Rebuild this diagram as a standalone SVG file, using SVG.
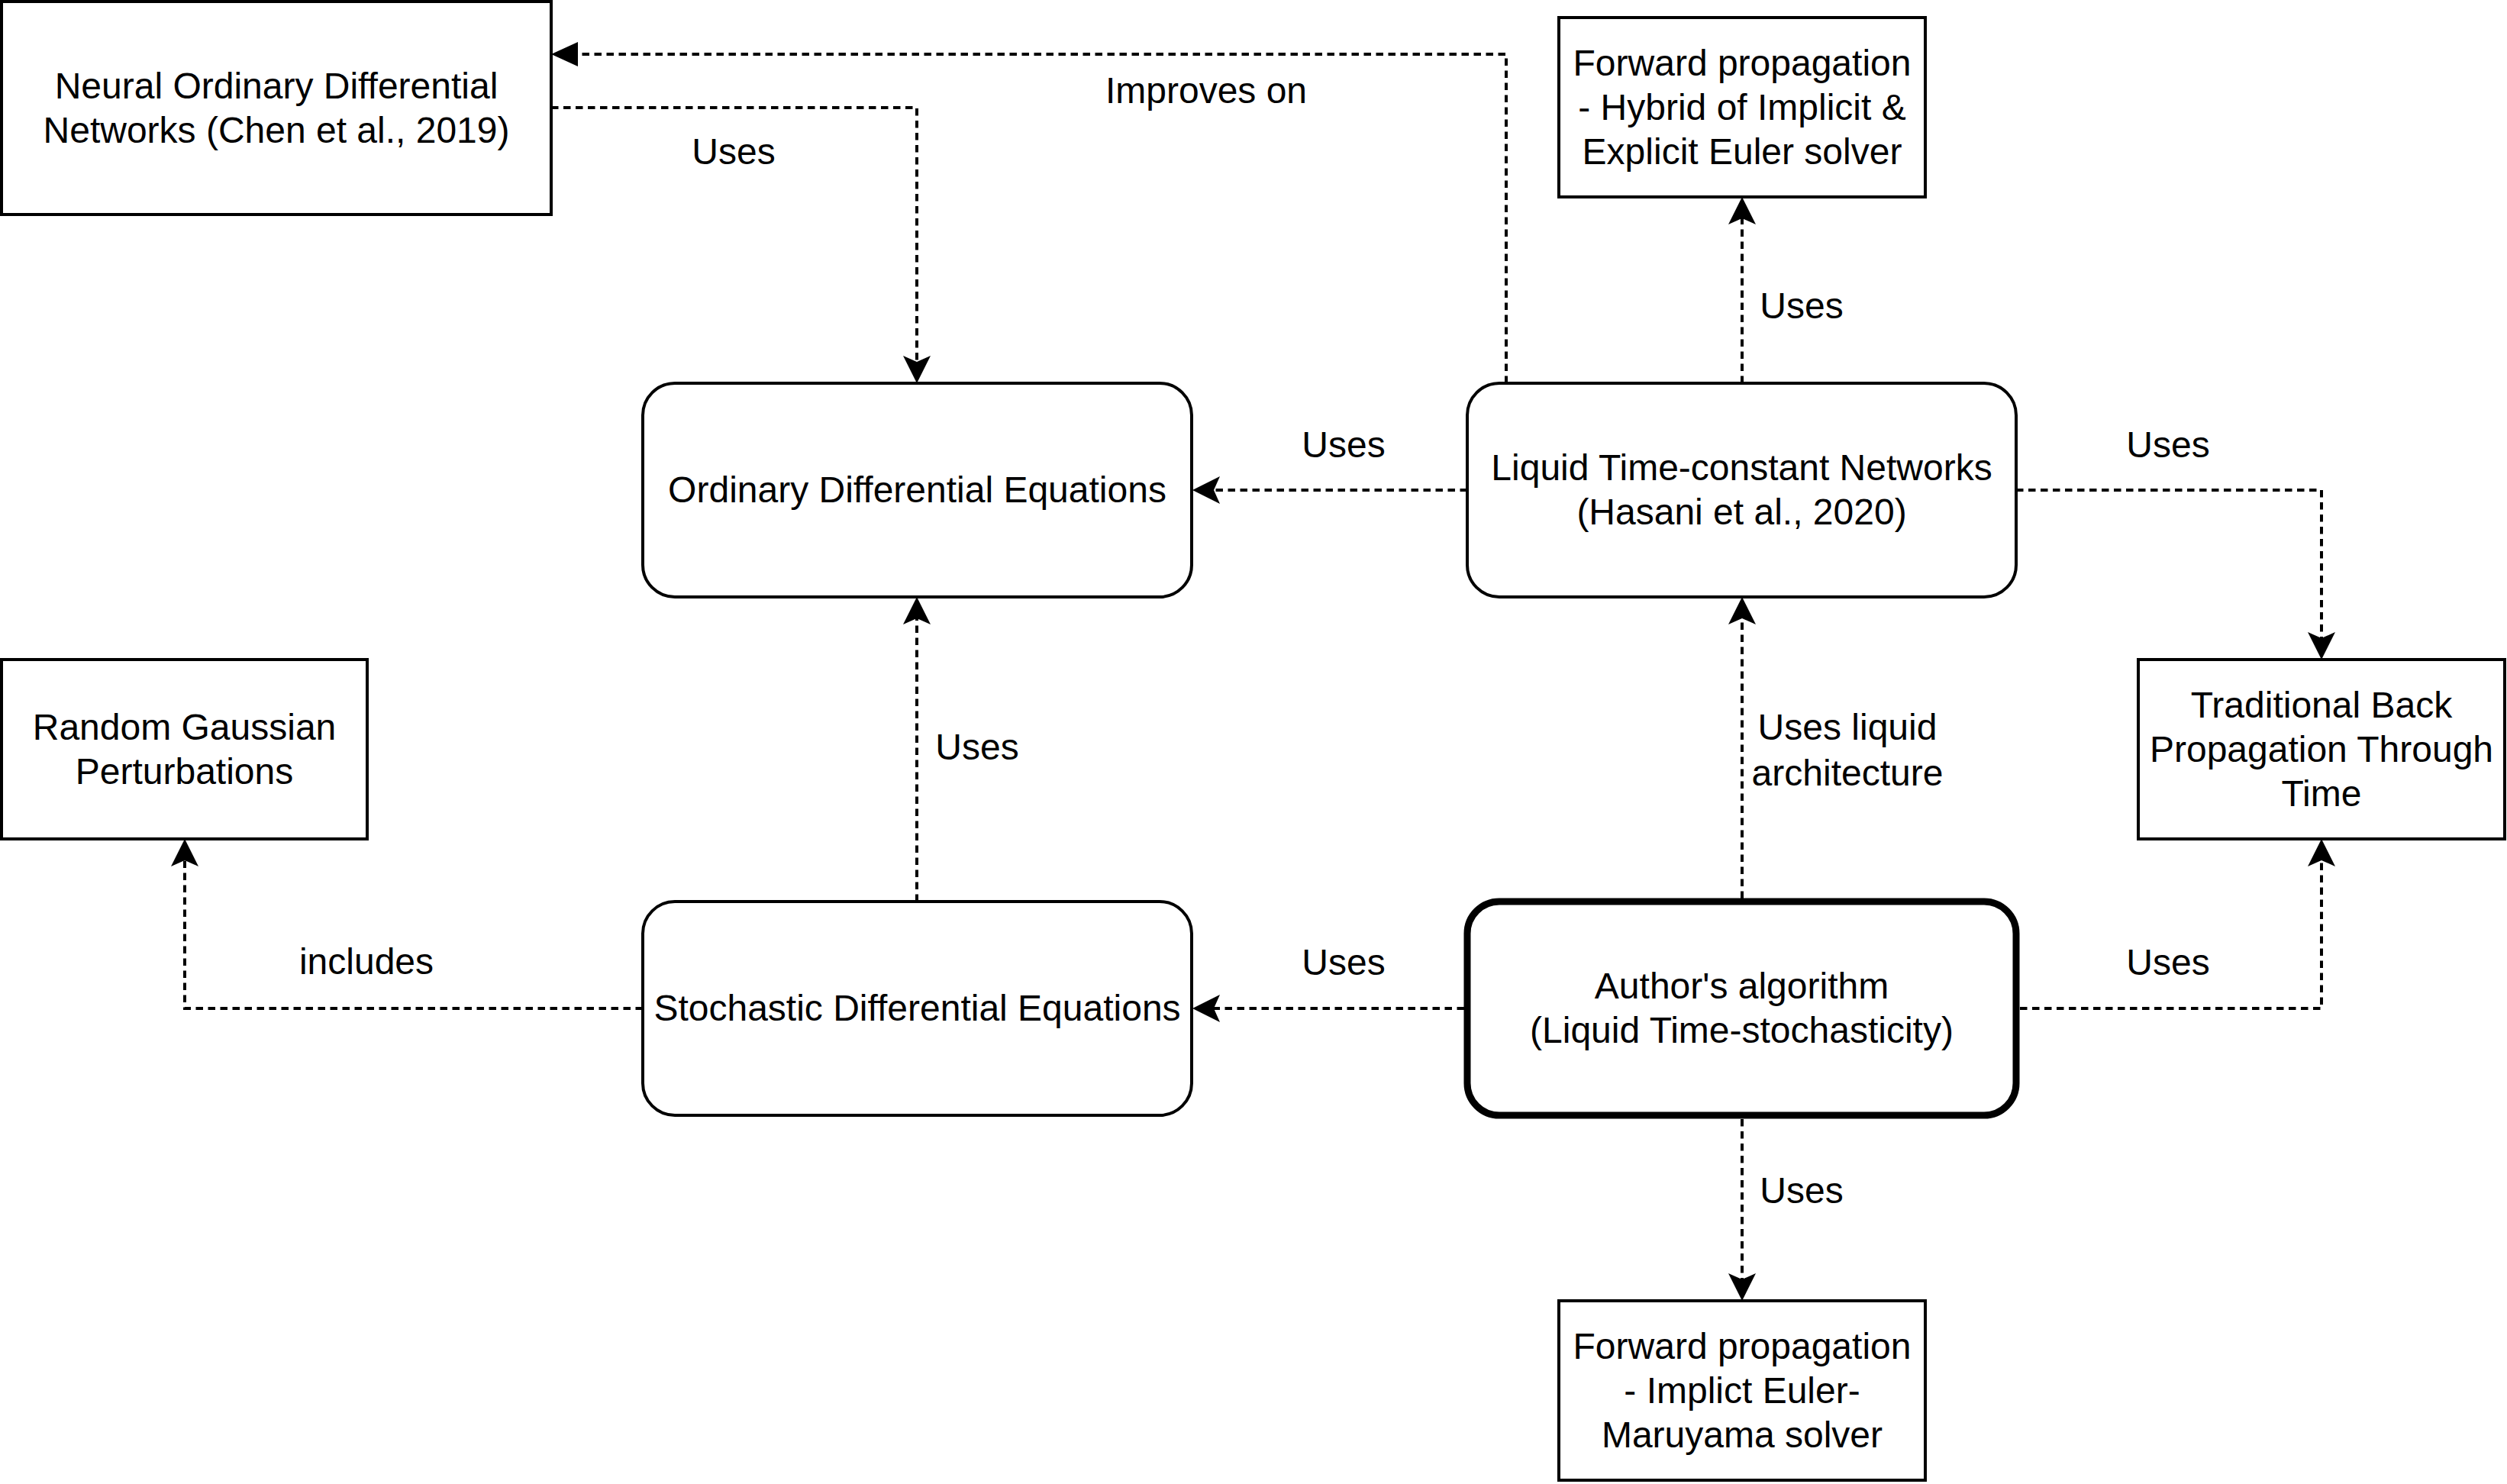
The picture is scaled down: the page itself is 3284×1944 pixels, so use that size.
<svg xmlns="http://www.w3.org/2000/svg" width="3284" height="1944" viewBox="0 0 3284 1944">
<style>
.box{fill:#fff;stroke:#000;stroke-width:4}
.bold{stroke-width:9}
.t{font-family:"Liberation Sans",Arial,Helvetica,sans-serif;font-size:48px;fill:#000;text-anchor:middle}
.e{fill:none;stroke:#000;stroke-width:4;stroke-dasharray:9.5 6.5}
</style>
<defs>
<marker id="classic" markerUnits="userSpaceOnUse" markerWidth="36" markerHeight="36" refX="8" refY="18" orient="auto" overflow="visible">
<path d="M0,0 L36,18 L0,36 L8,18 Z" fill="#000"/>
</marker>
<marker id="block" markerUnits="userSpaceOnUse" markerWidth="35" markerHeight="32" refX="0" refY="16" orient="auto" overflow="visible">
<path d="M0,0 L35,16 L0,32 Z" fill="#000"/>
</marker>
</defs>
<rect width="3284" height="1944" fill="#fff"/>
<g id="connectors">
<path class="e" d="M1973,502 V71 H757" marker-end="url(#block)"/>
<path class="e" d="M722,141 H1201 V474" marker-end="url(#classic)"/>
<path class="e" d="M2282,502 V286" marker-end="url(#classic)"/>
<path class="e" d="M1922,642 H1590" marker-end="url(#classic)"/>
<path class="e" d="M2641,642 H3041 V836" marker-end="url(#classic)"/>
<path class="e" d="M1201,1181 V810" marker-end="url(#classic)"/>
<path class="e" d="M842,1321 H242 V1127" marker-end="url(#classic)"/>
<path class="e" d="M2282,1177 V810" marker-end="url(#classic)"/>
<path class="e" d="M1918,1321 H1590" marker-end="url(#classic)"/>
<path class="e" d="M2646,1321 H3041 V1127" marker-end="url(#classic)"/>
<path class="e" d="M2282,1466 V1676" marker-end="url(#classic)"/>
<text class="t" x="1580" y="135">Improves on</text>
<text class="t" x="961" y="215">Uses</text>
<text class="t" x="2360" y="417">Uses</text>
<text class="t" x="1760" y="599">Uses</text>
<text class="t" x="2840" y="599">Uses</text>
<text class="t" x="1280" y="995">Uses</text>
<text class="t" x="480" y="1276">includes</text>
<text class="t" x="2420" y="969">Uses liquid</text>
<text class="t" x="2420" y="1029">architecture</text>
<text class="t" x="1760" y="1277">Uses</text>
<text class="t" x="2840" y="1277">Uses</text>
<text class="t" x="2360" y="1576">Uses</text>
</g>
<g id="neural-ode-networks">
<rect class="box" x="2" y="2" width="720" height="279"/>
<text class="t" x="362" y="128.5">Neural Ordinary Differential</text>
<text class="t" x="362" y="186.5">Networks (Chen et al., 2019)</text>
</g>
<g id="forward-hybrid">
<rect class="box" x="2042" y="23" width="480" height="235"/>
<text class="t" x="2282" y="98.5">Forward propagation</text>
<text class="t" x="2282" y="156.5">- Hybrid of Implicit &amp;</text>
<text class="t" x="2282" y="214.5">Explicit Euler solver</text>
</g>
<g id="ode">
<rect class="box" x="842" y="502" width="719" height="280" rx="42" ry="42"/>
<text class="t" x="1201.5" y="658">Ordinary Differential Equations</text>
</g>
<g id="ltc">
<rect class="box" x="1922" y="502" width="719" height="280" rx="42" ry="42"/>
<text class="t" x="2281.5" y="629">Liquid Time-constant Networks</text>
<text class="t" x="2281.5" y="687">(Hasani et al., 2020)</text>
</g>
<g id="gaussian">
<rect class="box" x="2" y="864" width="479" height="235"/>
<text class="t" x="241.5" y="968.5">Random Gaussian</text>
<text class="t" x="241.5" y="1026.5">Perturbations</text>
</g>
<g id="bptt">
<rect class="box" x="2801" y="864" width="480" height="235"/>
<text class="t" x="3041" y="939.5">Traditional Back</text>
<text class="t" x="3041" y="997.5">Propagation Through</text>
<text class="t" x="3041" y="1055.5">Time</text>
</g>
<g id="sde">
<rect class="box" x="842" y="1181" width="719" height="280" rx="42" ry="42"/>
<text class="t" x="1201.5" y="1337">Stochastic Differential Equations</text>
</g>
<g id="author">
<rect class="box bold" x="1922" y="1181" width="719" height="280" rx="42" ry="42"/>
<text class="t" x="2281.5" y="1308">Author's algorithm</text>
<text class="t" x="2281.5" y="1366">(Liquid Time-stochasticity)</text>
</g>
<g id="forward-euler-maruyama">
<rect class="box" x="2042" y="1704" width="480" height="235"/>
<text class="t" x="2282" y="1779.5">Forward propagation</text>
<text class="t" x="2282" y="1837.5">- Implict Euler-</text>
<text class="t" x="2282" y="1895.5">Maruyama solver</text>
</g>
</svg>
